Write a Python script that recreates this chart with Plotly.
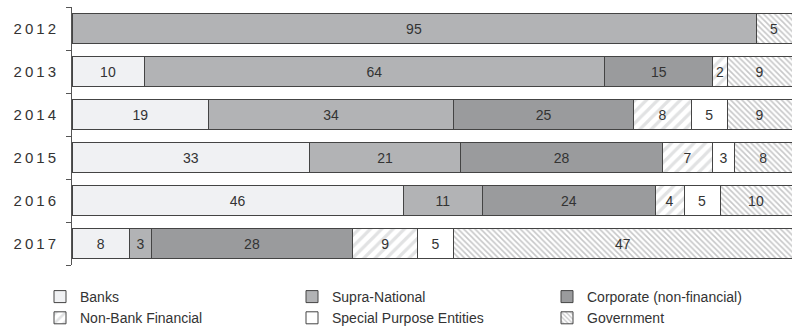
import plotly.graph_objects as go

years = ["2012", "2013", "2014", "2015", "2016", "2017"]
year_labels = ["\u2009".join(y) for y in years]

banks = [0, 10, 19, 33, 46, 8]
supra = [95, 64, 34, 21, 11, 3]
corporate = [0, 15, 25, 28, 24, 28]
nonbank = [0, 2, 8, 7, 4, 9]
spe = [0, 0, 5, 3, 5, 5]
government = [5, 9, 9, 8, 10, 47]

series = [
    ("Banks", banks, dict(color="#f0f1f3"), "legend"),
    ("Supra-National", supra, dict(color="#b2b3b5"), "legend2"),
    ("Corporate (non-financial)", corporate, dict(color="#9a9b9d"), "legend3"),
    ("Non-Bank Financial", nonbank, dict(color="#ffffff",
        pattern=dict(shape="/", fgcolor="#c4c5c7", bgcolor="#ffffff", size=8, solidity=0.4)), "legend"),
    ("Special Purpose Entities", spe, dict(color="#ffffff"), "legend2"),
    ("Government", government, dict(color="#ffffff",
        pattern=dict(shape="\\", fgcolor="#8f9092", bgcolor="#ffffff", size=4, solidity=0.4)), "legend3"),
]

fig = go.Figure()
for name, vals, mk, lg in series:
    mk = dict(mk)
    mk["line"] = dict(color="#444444", width=1)
    fig.add_trace(go.Bar(
        y=years, x=vals, name=name, orientation="h",
        marker=mk, legend=lg,
        text=[str(v) if v else "" for v in vals],
        textposition="inside", insidetextanchor="middle", textangle=0,
        textfont=dict(color="#333333", size=14, family="Liberation Sans, Arial, sans-serif"),
        hoverinfo="skip",
    ))

def leg(xpx):
    return dict(
        orientation="h", xref="container", x=xpx / 793, xanchor="left",
        yref="container", y=0.0, yanchor="bottom",
        entrywidth=420, entrywidthmode="pixels",
        font=dict(size=14, color="#333333"),
        traceorder="normal", itemclick=False, tracegroupgap=0,
        bgcolor="rgba(0,0,0,0)",
    )

fig.update_layout(
    barmode="stack",
    bargap=0.28,
    width=793, height=334,
    margin=dict(l=72, r=1, t=7, b=69),
    paper_bgcolor="white", plot_bgcolor="white",
    font=dict(family="Liberation Sans, Arial, sans-serif", color="#333333", size=14),
    uniformtext=dict(minsize=14, mode="show"),
    showlegend=True,
    legend=leg(40),
    legend2=leg(292),
    legend3=leg(547),
)
fig.update_xaxes(range=[0, 100], visible=False, showgrid=False)
fig.update_yaxes(
    categoryorder="array", categoryarray=years, autorange="reversed",
    tickmode="array", tickvals=years, ticktext=year_labels,
    showline=True, linecolor="#555555", linewidth=1,
    ticks="outside", tickson="boundaries", ticklen=5, tickcolor="#555555",
    ticklabelstandoff=12,
    showgrid=False, tickfont=dict(size=15, color="#333333"),
)

fig.write_html("out.html")
